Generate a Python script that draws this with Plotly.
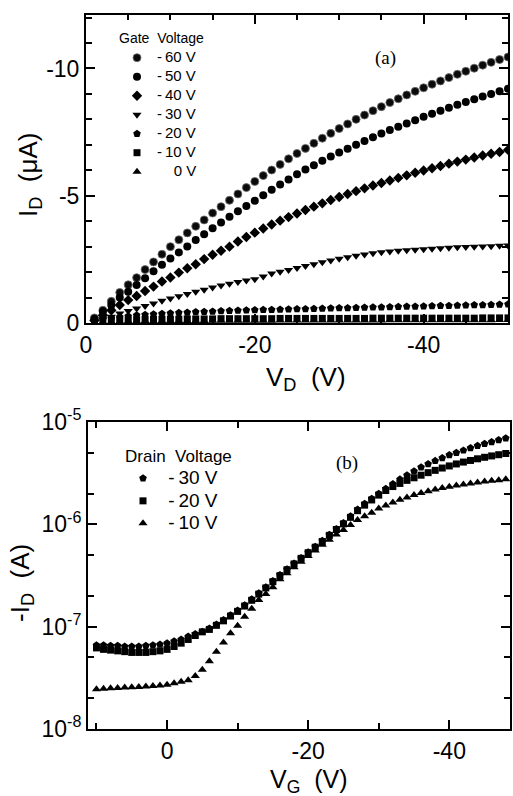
import plotly.graph_objects as go

# ---------------- Panel (a): output characteristics ----------------
VD = [-1, -2, -3, -4, -5, -6, -7, -8, -9, -10, -11, -12, -13, -14, -15, -16, -17, -18, -19, -20,
      -21, -22, -23, -24, -25, -26, -27, -28, -29, -30, -31, -32, -33, -34, -35, -36, -37, -38, -39, -40,
      -41, -42, -43, -44, -45, -46, -47, -48, -49, -50]

ID_m60 = [-0.20, -0.50, -0.85, -1.20, -1.50, -1.78, -2.10, -2.40, -2.70, -3.00, -3.27, -3.54, -3.80, -4.05, -4.32,
          -4.57, -4.82, -5.07, -5.32, -5.56, -5.79, -6.01, -6.23, -6.45, -6.66, -6.86, -7.06, -7.26, -7.45, -7.64,
          -7.82, -8.00, -8.17, -8.34, -8.50, -8.66, -8.81, -8.96, -9.10, -9.24, -9.38, -9.51, -9.64, -9.77, -9.89,
          -10.01, -10.13, -10.24, -10.35, -10.45]
ID_m50 = [-0.15, -0.45, -0.71, -1.00, -1.23, -1.49, -1.76, -2.03, -2.29, -2.53, -2.77, -3.01, -3.26, -3.49, -3.72,
          -3.95, -4.17, -4.39, -4.60, -4.80, -5.02, -5.23, -5.44, -5.64, -5.84, -6.03, -6.20, -6.37, -6.54, -6.70,
          -6.85, -7.00, -7.15, -7.30, -7.44, -7.58, -7.71, -7.84, -7.97, -8.10, -8.22, -8.34, -8.46, -8.57, -8.68,
          -8.79, -8.90, -9.00, -9.10, -9.20]
ID_m40 = [-0.10, -0.30, -0.50, -0.71, -0.90, -1.06, -1.26, -1.43, -1.63, -1.79, -1.98, -2.15, -2.31, -2.51, -2.68,
          -2.84, -3.00, -3.20, -3.38, -3.55, -3.71, -3.87, -4.02, -4.16, -4.30, -4.44, -4.57, -4.70, -4.83, -4.95,
          -5.07, -5.18, -5.29, -5.40, -5.50, -5.60, -5.70, -5.80, -5.90, -5.99, -6.08, -6.17, -6.26, -6.34, -6.42,
          -6.50, -6.58, -6.65, -6.72, -6.80]
ID_m30 = [-0.05, -0.15, -0.25, -0.37, -0.47, -0.57, -0.67, -0.77, -0.87, -0.96, -1.05, -1.14, -1.23, -1.31, -1.39,
          -1.47, -1.54, -1.61, -1.67, -1.72, -1.83, -1.94, -2.01, -2.08, -2.16, -2.24, -2.31, -2.39, -2.46, -2.52,
          -2.58, -2.64, -2.69, -2.74, -2.78, -2.81, -2.84, -2.86, -2.88, -2.90, -2.92, -2.94, -2.96, -2.98, -2.99,
          -3.00, -3.01, -3.02, -3.03, -3.04]
ID_m20 = [-0.08, -0.15, -0.20, -0.24, -0.27, -0.30, -0.32, -0.34, -0.36, -0.38, -0.40, -0.41, -0.43, -0.44, -0.45,
          -0.47, -0.48, -0.49, -0.50, -0.51, -0.52, -0.52, -0.53, -0.54, -0.55, -0.55, -0.56, -0.57, -0.58, -0.59,
          -0.59, -0.60, -0.61, -0.62, -0.62, -0.63, -0.64, -0.65, -0.65, -0.66, -0.67, -0.68, -0.68, -0.69, -0.70,
          -0.71, -0.71, -0.72, -0.73, -0.74]
ID_m10 = [-0.05, -0.08, -0.10, -0.11, -0.12, -0.13, -0.14, -0.14, -0.15, -0.15, -0.15, -0.16, -0.16, -0.16, -0.16,
          -0.17, -0.17, -0.17, -0.17, -0.17, -0.17, -0.17, -0.18, -0.18, -0.18, -0.18, -0.18, -0.18, -0.18, -0.18,
          -0.18, -0.18, -0.18, -0.19, -0.19, -0.19, -0.19, -0.19, -0.19, -0.19, -0.19, -0.19, -0.19, -0.19, -0.19,
          -0.19, -0.20, -0.20, -0.20, -0.20]
ID_0 = [-0.02, -0.03, -0.04, -0.05, -0.06, -0.06, -0.07, -0.07, -0.07, -0.08, -0.08, -0.08, -0.08, -0.08, -0.09,
        -0.09, -0.09, -0.09, -0.09, -0.09, -0.09, -0.09, -0.10, -0.10, -0.10, -0.10, -0.10, -0.10, -0.10, -0.10,
        -0.10, -0.10, -0.10, -0.10, -0.10, -0.11, -0.11, -0.11, -0.11, -0.11, -0.11, -0.11, -0.11, -0.11, -0.11,
        -0.11, -0.11, -0.11, -0.12, -0.12]

gate_labels = ["-\u200960 V", "-\u200950 V", "-\u200940 V", "-\u200930 V", "-\u200920 V", "-\u200910 V",
               "\u2007\u20070 V"]
gate_series = [ID_m60, ID_m50, ID_m40, ID_m30, ID_m20, ID_m10, ID_0]
gate_symbols = ["circle", "circle", "diamond", "triangle-down", "pentagon", "square", "triangle-up"]
gate_sizes = [8, 8, 8, 8, 8, 7, 8]

# ---------------- Panel (b): transfer characteristics ----------------
VG = [10, 9, 8, 7, 6, 5, 4, 3, 2, 1, 0, -1, -2, -3, -4, -5, -6, -7, -8, -9, -10,
      -11, -12, -13, -14, -15, -16, -17, -18, -19, -20, -21, -22, -23, -24, -25, -26, -27, -28, -29, -30,
      -31, -32, -33, -34, -35, -36, -37, -38, -39, -40, -41, -42, -43, -44, -45, -46, -47, -48]

ID_vd30 = [6.6e-8, 6.6e-8, 6.5e-8, 6.5e-8, 6.4e-8, 6.4e-8, 6.4e-8, 6.5e-8, 6.6e-8, 6.7e-8, 6.9e-8,
           7.2e-8, 7.5e-8, 8.0e-8, 8.5e-8, 8.9e-8, 9.6e-8, 1.05e-7, 1.16e-7, 1.29e-7, 1.44e-7,
           1.62e-7, 1.85e-7, 2.12e-7, 2.43e-7, 2.80e-7, 3.20e-7, 3.65e-7, 4.15e-7, 4.70e-7, 5.35e-7,
           6.05e-7, 6.90e-7, 7.90e-7, 9.00e-7, 1.03e-6, 1.20e-6, 1.40e-6, 1.585e-6, 1.78e-6, 1.995e-6,
           2.23e-6, 2.48e-6, 2.75e-6, 3.02e-6, 3.31e-6, 3.61e-6, 3.89e-6, 4.17e-6, 4.44e-6, 4.76e-6,
           5.01e-6, 5.28e-6, 5.56e-6, 5.86e-6, 6.14e-6, 6.38e-6, 6.67e-6, 6.95e-6]
ID_vd20 = [6.2e-8, 6.0e-8, 5.9e-8, 5.8e-8, 5.7e-8, 5.6e-8, 5.6e-8, 5.6e-8, 5.7e-8, 5.8e-8, 6.0e-8,
           6.4e-8, 6.9e-8, 7.5e-8, 8.2e-8, 8.9e-8, 9.4e-8, 1.03e-7, 1.14e-7, 1.27e-7, 1.41e-7,
           1.59e-7, 1.81e-7, 2.08e-7, 2.39e-7, 2.75e-7, 3.15e-7, 3.60e-7, 4.10e-7, 4.65e-7, 5.28e-7,
           5.98e-7, 6.80e-7, 7.80e-7, 8.90e-7, 1.01e-6, 1.17e-6, 1.36e-6, 1.54e-6, 1.73e-6, 1.93e-6,
           2.14e-6, 2.34e-6, 2.51e-6, 2.69e-6, 2.85e-6, 3.02e-6, 3.20e-6, 3.37e-6, 3.55e-6, 3.72e-6,
           3.89e-6, 4.06e-6, 4.21e-6, 4.37e-6, 4.52e-6, 4.66e-6, 4.79e-6, 4.92e-6]
ID_vd10 = [2.45e-8, 2.47e-8, 2.50e-8, 2.52e-8, 2.54e-8, 2.56e-8, 2.58e-8, 2.60e-8, 2.63e-8, 2.66e-8, 2.70e-8,
           2.80e-8, 2.90e-8, 3.00e-8, 3.30e-8, 3.80e-8, 4.60e-8, 5.70e-8, 7.00e-8, 8.60e-8, 1.02e-7,
           1.25e-7, 1.50e-7, 1.82e-7, 2.09e-7, 2.43e-7, 2.90e-7, 3.33e-7, 3.80e-7, 4.31e-7, 4.90e-7,
           5.56e-7, 6.31e-7, 7.08e-7, 7.94e-7, 8.81e-7, 9.86e-7, 1.10e-6, 1.20e-6, 1.30e-6, 1.43e-6,
           1.53e-6, 1.63e-6, 1.74e-6, 1.83e-6, 1.93e-6, 2.02e-6, 2.10e-6, 2.19e-6, 2.26e-6, 2.33e-6,
           2.40e-6, 2.45e-6, 2.51e-6, 2.57e-6, 2.62e-6, 2.66e-6, 2.70e-6, 2.75e-6]

drain_labels = ["-\u200930 V", "-\u200920 V", "-\u200910 V"]
drain_series = [ID_vd30, ID_vd20, ID_vd10]
drain_symbols = ["pentagon", "square", "triangle-up"]
drain_sizes = [8, 7, 8]

# tick labels
xa_tickvals = [0, -20, -40]
xa_ticktext = ["0", "-20", "-40"]
xa_unlabeled = [-10, -30, -50]
ya_tickvals = [0, -5, -10]
ya_ticktext = ["0", "-5", "-10"]
xb_tickvals = [0, -20, -40]
xb_ticktext = ["0", "-20", "-40"]
yb_tickvals = [1e-8, 1e-7, 1e-6, 1e-5]
yb_ticktext = ["10<sup>-8</sup>", "10<sup>-7</sup>", "10<sup>-6</sup>", "10<sup>-5</sup>"]
yb_minor = [2e-8, 5e-8, 2e-7, 5e-7, 2e-6, 5e-6]

FONT = "Liberation Sans, Arial, sans-serif"
W, H = 513, 796

fig = go.Figure()

for lab, ys, sym, sz in zip(gate_labels, gate_series, gate_symbols, gate_sizes):
    is60 = "60" in lab
    fig.add_trace(go.Scatter(
        x=VD, y=ys, mode="markers", xaxis="x", yaxis="y", legend="legend",
        name='<span style="font-size:15px">' + lab + '</span>',
        marker=dict(symbol=sym, size=sz, color="#0a0a0a" if is60 else "black",
                    line=dict(color="#6e6e6e" if is60 else "black", width=0.8 if is60 else 0)),
    ))

for lab, ys, sym, sz in zip(drain_labels, drain_series, drain_symbols, drain_sizes):
    fig.add_trace(go.Scatter(
        x=VG, y=ys, mode="markers", xaxis="x2", yaxis="y2", legend="legend2",
        name='<span style="font-size:19px">\u00a0' + lab + '</span>',
        marker=dict(symbol=sym, size=sz, color="black", line=dict(width=0)),
    ))

def axis_common(**kw):
    d = dict(showline=True, linecolor="black", linewidth=2, mirror="ticks",
             ticks="inside", ticklen=9, tickwidth=2, tickcolor="black",
             showgrid=False, zeroline=False, automargin=False,
             tickfont=dict(family=FONT, size=23, color="black"))
    d.update(kw)
    return d

fig.update_layout(
    width=W, height=H,
    margin=dict(l=0, r=0, t=0, b=0),
    paper_bgcolor="white", plot_bgcolor="white",
    font=dict(family=FONT, color="black"),
    xaxis=axis_common(domain=[86 / W, 508 / W], anchor="y", range=[0, -50],
                      tickmode="array", tickvals=xa_tickvals, ticktext=xa_ticktext,
                      minor=dict(ticks="inside", ticklen=5, tickwidth=2, tickcolor="black",
                                 dtick=5, tick0=0, showgrid=False)),
    xaxis3=axis_common(domain=[86 / W, 508 / W], anchor="y", overlaying="x", range=[0, -50],
                       tickmode="array", tickvals=xa_unlabeled, showticklabels=False),
    yaxis=axis_common(domain=[1 - 323 / H, 1 - 15 / H], anchor="x", range=[0, -12.1],
                      tickmode="array", tickvals=ya_tickvals, ticktext=ya_ticktext,
                      minor=dict(ticks="inside", ticklen=6, tickwidth=2, tickcolor="black",
                                 dtick=1, tick0=0, showgrid=False)),
    xaxis2=axis_common(domain=[88 / W, 510 / W], anchor="y2", range=[11.2, -48.6],
                       tickmode="array", tickvals=xb_tickvals, ticktext=xb_ticktext,
                       minor=dict(ticks="inside", ticklen=6, tickwidth=2, tickcolor="black",
                                  dtick=10, tick0=0, showgrid=False)),
    yaxis2=axis_common(domain=[1 - 729 / H, 1 - 422 / H], anchor="x2", type="log", range=[-8, -5],
                       tickmode="array", tickvals=yb_tickvals, ticktext=yb_ticktext,
                       minor=dict(ticks="inside", ticklen=6, tickwidth=2, tickcolor="black",
                                  tickmode="array", tickvals=yb_minor, showgrid=False)),
    legend=dict(x=117 / W, y=1 - 25 / H, xanchor="left", yanchor="top",
                bgcolor="rgba(0,0,0,0)", borderwidth=0,
                font=dict(family=FONT, size=12, color="black"),
                title=dict(text="Gate  Voltage", font=dict(family=FONT, size=14, color="black")),
                tracegroupgap=0, itemclick=False),
    legend2=dict(x=123 / W, y=1 - 440 / H, xanchor="left", yanchor="top",
                 bgcolor="rgba(0,0,0,0)", borderwidth=0,
                 font=dict(family=FONT, size=15, color="black"),
                 title=dict(text="Drain  Voltage", font=dict(family=FONT, size=17, color="black")),
                 tracegroupgap=0, itemclick=False),
    showlegend=True,
)

ann = [
    dict(text="I<sub>D</sub>  (\u03bcA)", x=30 / W, y=1 - 175 / H, textangle=-90,
         font=dict(family=FONT, size=26)),
    dict(text="V<sub>D</sub>  (V)", x=306 / W, y=1 - 378 / H, font=dict(family=FONT, size=26)),
    dict(text="(a)", x=385 / W, y=1 - 58 / H, font=dict(family="Liberation Serif, serif", size=19)),
    dict(text="-I<sub>D</sub>  (A)", x=21 / W, y=1 - 583 / H, textangle=-90,
         font=dict(family=FONT, size=26)),
    dict(text="V<sub>G</sub>  (V)", x=309 / W, y=1 - 781 / H, font=dict(family=FONT, size=25)),
    dict(text="(b)", x=347 / W, y=1 - 463 / H, font=dict(family="Liberation Serif, serif", size=19)),
]
for a in ann:
    a.update(xref="paper", yref="paper", showarrow=False, xanchor="center", yanchor="middle")
fig.update_layout(annotations=ann)

fig.write_html("out.html", config={"displayModeBar": False},
               post_script="document.body.style.margin='0';document.body.style.padding='0';")
